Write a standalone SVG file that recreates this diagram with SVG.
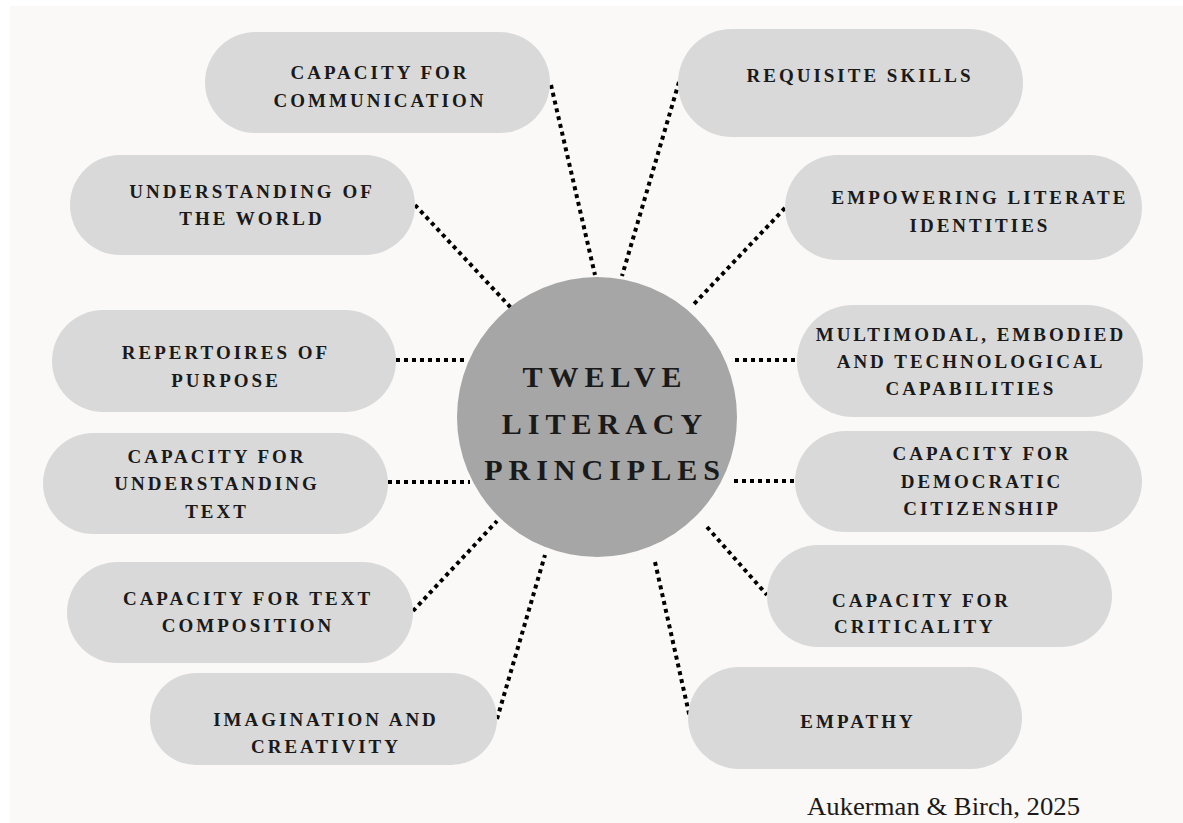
<svg xmlns="http://www.w3.org/2000/svg" width="1183" height="823" viewBox="0 0 1183 823">
  <style>
    .pill { fill: #d9d9d9; }
    .lbl { font-family: "Liberation Serif", "Times New Roman", serif; font-weight: bold; font-size: 19px; letter-spacing: 3px; fill: #1a1a1a; text-anchor: middle; }
    .lbl.left { text-anchor: start; }
    .hub { fill: #a6a6a6; }
    .hubtxt { font-family: "Liberation Serif", "Times New Roman", serif; font-weight: bold; font-size: 30px; letter-spacing: 6px; fill: #1a1a1a; text-anchor: middle; }
    .link { stroke: #000; stroke-width: 4; stroke-dasharray: 4 4; fill: none; }
    .cite { font-family: "Liberation Serif", "Times New Roman", serif; font-size: 25px; fill: #1a1a1a; }
  </style>

  <rect x="0" y="0" width="1183" height="823" fill="#ffffff"/>
  <rect x="10" y="6" width="1173" height="817" fill="#faf9f8"/>

  <!-- dotted spokes from the hub to each principle -->
  <g id="connectors">
    <line class="link" x1="551" y1="85" x2="595" y2="275"/>
    <line class="link" x1="679" y1="82" x2="622" y2="276"/>
    <line class="link" x1="415" y1="205" x2="513" y2="310"/>
    <line class="link" x1="396" y1="360" x2="468" y2="360"/>
    <line class="link" x1="388" y1="482" x2="470" y2="482"/>
    <line class="link" x1="413" y1="611" x2="497" y2="521"/>
    <line class="link" x1="497" y1="719" x2="545" y2="555"/>
    <line class="link" x1="785" y1="208" x2="693" y2="305"/>
    <line class="link" x1="735" y1="360" x2="797" y2="360"/>
    <line class="link" x1="734" y1="481" x2="795" y2="481"/>
    <line class="link" x1="707" y1="527" x2="767" y2="595"/>
    <line class="link" x1="655" y1="562" x2="690" y2="718"/>
  </g>

  <g id="hub">
    <circle class="hub" cx="597" cy="417" r="140"/>
    <text class="hubtxt" x="605" y="387">TWELVE</text>
    <text class="hubtxt" x="605" y="434">LITERACY</text>
    <text class="hubtxt" x="605" y="480">PRINCIPLES</text>
  </g>

  <g id="communication">
    <rect class="pill" x="205" y="32" width="345" height="101" rx="50.5"/>
    <text class="lbl" x="380" y="79">CAPACITY FOR</text>
    <text class="lbl" x="380" y="107">COMMUNICATION</text>
  </g>

  <g id="requisite-skills">
    <rect class="pill" x="678" y="29" width="345" height="108" rx="54"/>
    <text class="lbl" x="860" y="82">REQUISITE SKILLS</text>
  </g>

  <g id="understanding-world">
    <rect class="pill" x="70" y="155" width="345" height="100" rx="50"/>
    <text class="lbl" x="252" y="198">UNDERSTANDING OF</text>
    <text class="lbl" x="252" y="225">THE WORLD</text>
  </g>

  <g id="literate-identities">
    <rect class="pill" x="785" y="155" width="357" height="105" rx="52.5"/>
    <text class="lbl" x="980" y="204">EMPOWERING LITERATE</text>
    <text class="lbl" x="980" y="232">IDENTITIES</text>
  </g>

  <g id="repertoires">
    <rect class="pill" x="52" y="310" width="344" height="102" rx="51"/>
    <text class="lbl" x="226" y="359">REPERTOIRES OF</text>
    <text class="lbl" x="226" y="387">PURPOSE</text>
  </g>

  <g id="multimodal">
    <rect class="pill" x="797" y="305" width="346" height="112" rx="56"/>
    <text class="lbl" x="971" y="341">MULTIMODAL, EMBODIED</text>
    <text class="lbl" x="971" y="368">AND TECHNOLOGICAL</text>
    <text class="lbl" x="971" y="395">CAPABILITIES</text>
  </g>

  <g id="understanding-text">
    <rect class="pill" x="43" y="433" width="345" height="101" rx="50.5"/>
    <text class="lbl" x="217" y="463">CAPACITY FOR</text>
    <text class="lbl" x="217" y="490">UNDERSTANDING</text>
    <text class="lbl" x="217" y="518">TEXT</text>
  </g>

  <g id="democratic-citizenship">
    <rect class="pill" x="795" y="431" width="347" height="101" rx="50.5"/>
    <text class="lbl" x="982" y="460">CAPACITY FOR</text>
    <text class="lbl" x="982" y="488">DEMOCRATIC</text>
    <text class="lbl" x="982" y="515">CITIZENSHIP</text>
  </g>

  <g id="text-composition">
    <rect class="pill" x="67" y="562" width="346" height="101" rx="50.5"/>
    <text class="lbl" x="248" y="605">CAPACITY FOR TEXT</text>
    <text class="lbl" x="248" y="632">COMPOSITION</text>
  </g>

  <g id="criticality">
    <rect class="pill" x="767" y="545" width="345" height="102" rx="51"/>
    <text class="lbl left" x="832" y="607">CAPACITY FOR</text>
    <text class="lbl left" x="834" y="633">CRITICALITY</text>
  </g>

  <g id="imagination">
    <rect class="pill" x="150" y="673" width="347" height="92" rx="46"/>
    <text class="lbl" x="326" y="726">IMAGINATION AND</text>
    <text class="lbl" x="326" y="753">CREATIVITY</text>
  </g>

  <g id="empathy">
    <rect class="pill" x="688" y="667" width="334" height="102" rx="51"/>
    <text class="lbl" x="858" y="728">EMPATHY</text>
  </g>

  <text class="cite" x="807" y="815" textLength="273" lengthAdjust="spacingAndGlyphs">Aukerman &amp; Birch, 2025</text>
</svg>
